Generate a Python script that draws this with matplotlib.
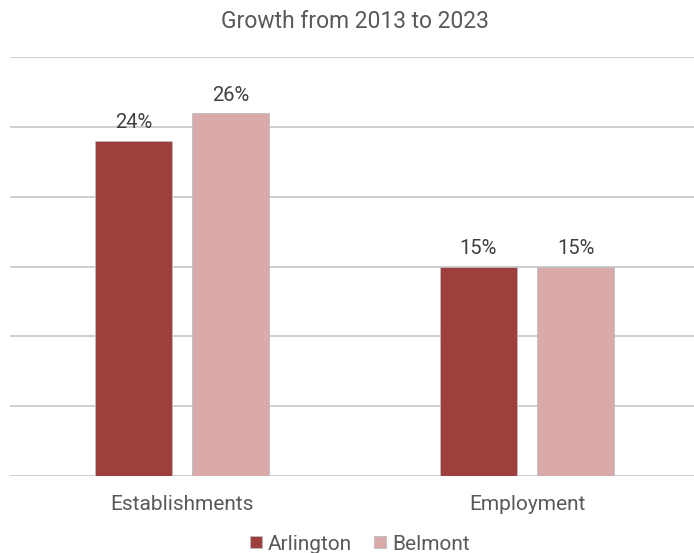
import matplotlib
matplotlib.use("Agg")
import matplotlib.pyplot as plt
import numpy as np

# data
categories = ["Establishments", "Employment"]
arlington = [24, 15]
belmont = [26, 15]
series_names = ["Arlington", "Belmont"]

dark_red = "#9E3F3D"
pink = "#DAA9A9"
text_col = "#595959"
grid_col = "#C6C6C6"

plt.rcParams["font.family"] = ["Roboto", "DejaVu Sans"]

W, H = 694, 553
fig = plt.figure(figsize=(W / 100, H / 100), dpi=100)

# plot area in pixels: baseline at y=476, 30% line at y=57, categories 345 px wide
left, right = 9.5, 699.5
bottom, top = 476, 57
ax = fig.add_axes([left / W, 1 - bottom / H, (right - left) / W, (bottom - top) / H])

x = np.arange(len(categories))
width = 0.223
offset = 0.141

b1 = ax.bar(x - offset, arlington, width, color=dark_red, edgecolor="#BDBDBD",
            linewidth=0.6, label=series_names[0], zorder=3)
b2 = ax.bar(x + offset, belmont, width, color=pink, edgecolor="#BDBDBD",
            linewidth=0.6, label=series_names[1], zorder=3)

for bars, vals in [(b1, arlington), (b2, belmont)]:
    for rect, v in zip(bars, vals):
        ax.annotate(f"{v}%", (rect.get_x() + rect.get_width() / 2, v),
                    xytext=(0, 6), textcoords="offset points",
                    ha="center", va="bottom", fontsize=14.5, color="#404040")

ax.set_xlim(-0.5, 1.5)
ax.set_ylim(0, 30)
ax.set_yticks(np.arange(0, 31, 5))
ax.yaxis.grid(True, color=grid_col, linewidth=1.2, zorder=0)
ax.tick_params(axis="y", left=False, labelleft=False)
ax.tick_params(axis="x", bottom=False, pad=10, labelsize=15, labelcolor=text_col)
ax.set_xticks(x)
ax.set_xticklabels(categories)
for s in ax.spines.values():
    s.set_visible(False)

fig.text(355 / W, 1 - 21 / H, "Growth from 2013 to 2023", ha="center", va="center",
         fontsize=16.5, color=text_col)

fig.legend(handles=[b1, b2], labels=series_names, loc="center",
           bbox_to_anchor=(360 / W, 1 - 544 / H), ncol=2, frameon=False,
           fontsize=15, labelcolor=text_col, handlelength=0.55, handleheight=0.55,
           handletextpad=0.3, columnspacing=1.05, borderpad=0.2)

fig.savefig("out.png", dpi=100)
